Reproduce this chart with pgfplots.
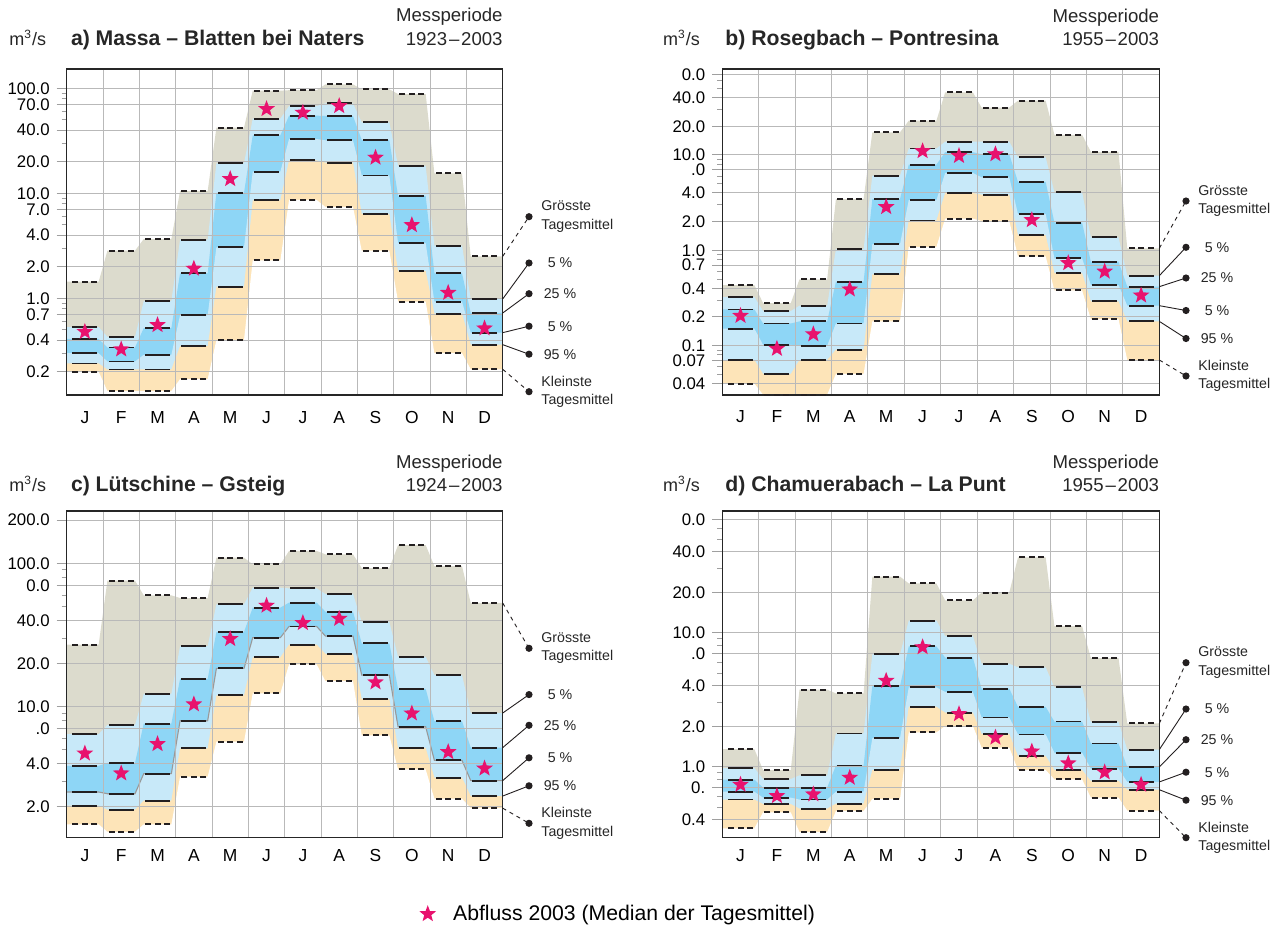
\documentclass[border=0pt]{standalone}
\usepackage{pgfplots}
\pgfplotsset{compat=1.18}
\usepackage{pgfplotstable}
\usepackage{fontspec}
\setmainfont{Liberation Sans}
\definecolor{cgrey}{RGB}{220,219,205}
\definecolor{clight}{RGB}{200,233,249}
\definecolor{cdark}{RGB}{142,214,246}
\definecolor{corange}{RGB}{253,228,184}
\definecolor{cstar}{RGB}{232,18,110}
\definecolor{cgrid}{RGB}{185,185,185}
\definecolor{cline}{RGB}{35,31,32}

\pgfdeclareplotmark{fstar}{%
  \pgfpathmoveto{\pgfpointpolar{90}{\pgfplotmarksize}}%
  \pgfpathlineto{\pgfpointpolar{126}{0.42*\pgfplotmarksize}}%
  \pgfpathlineto{\pgfpointpolar{162}{\pgfplotmarksize}}%
  \pgfpathlineto{\pgfpointpolar{198}{0.42*\pgfplotmarksize}}%
  \pgfpathlineto{\pgfpointpolar{234}{\pgfplotmarksize}}%
  \pgfpathlineto{\pgfpointpolar{270}{0.42*\pgfplotmarksize}}%
  \pgfpathlineto{\pgfpointpolar{306}{\pgfplotmarksize}}%
  \pgfpathlineto{\pgfpointpolar{342}{0.42*\pgfplotmarksize}}%
  \pgfpathlineto{\pgfpointpolar{18}{\pgfplotmarksize}}%
  \pgfpathlineto{\pgfpointpolar{54}{0.42*\pgfplotmarksize}}%
  \pgfpathclose
  \pgfusepathqfill
}

% columns: x = polygon abscissa, m = month, then max, quantiles 5/25/75/95 %, min, 2003 median
\pgfplotstableread{
x m max q5 q25 q75 q95 min star
0.5 1 1.44 0.533 0.41 0.30 0.24 0.20 0.48
1.38 1 1.44 0.533 0.41 0.30 0.24 0.20 0.48
1.62 2 2.84 0.43 0.34 0.25 0.21 0.131 0.327
2.38 2 2.84 0.43 0.34 0.25 0.21 0.131 0.327
2.62 3 3.67 0.94 0.52 0.29 0.21 0.131 0.557
3.38 3 3.67 0.94 0.52 0.29 0.21 0.131 0.557
3.62 4 10.5 3.62 1.73 0.69 0.35 0.17 1.92
4.38 4 10.5 3.62 1.73 0.69 0.35 0.17 1.92
4.62 5 42.2 19.3 10.1 3.06 1.29 0.40 13.7
5.38 5 42.2 19.3 10.1 3.06 1.29 0.40 13.7
5.62 6 95 51.4 35.7 16.1 8.57 2.30 63.6
6.38 6 95 51.4 35.7 16.1 8.57 2.30 63.6
6.62 7 96 67.9 54.9 32.9 20.6 8.64 58.7
7.38 7 96 67.9 54.9 32.9 20.6 8.64 58.7
7.62 8 109 72 54.5 32 19.6 7.41 67.9
8.38 8 109 72 54.5 32 19.6 7.41 67.9
8.62 9 97.8 47.4 32.2 14.8 6.36 2.84 21.9
9.38 9 97.8 47.4 32.2 14.8 6.36 2.84 21.9
9.62 10 88.3 18.3 9.44 3.36 1.82 0.93 4.99
10.38 10 88.3 18.3 9.44 3.36 1.82 0.93 4.99
10.62 11 15.5 3.17 1.73 0.93 0.715 0.30 1.13
11.38 11 15.5 3.17 1.73 0.93 0.715 0.30 1.13
11.62 12 2.51 0.986 0.725 0.471 0.362 0.211 0.518
12.5 12 2.51 0.986 0.725 0.471 0.362 0.211 0.518
}\tA

\pgfplotstableread{
x m max q5 q25 q75 q95 min star
0.5 1 0.433 0.324 0.240 0.151 0.0708 0.040 0.206
1.38 1 0.433 0.324 0.240 0.151 0.0708 0.040 0.206
1.62 2 0.28 0.231 0.171 0.102 0.0505 0.0306 0.093
2.38 2 0.28 0.231 0.171 0.102 0.0505 0.0306 0.093
2.62 3 0.497 0.263 0.18 0.10 0.0708 0.0306 0.132
3.38 3 0.497 0.263 0.18 0.10 0.0708 0.0306 0.132
3.62 4 3.45 1.03 0.469 0.171 0.0908 0.0505 0.39
4.38 4 3.45 1.03 0.469 0.171 0.0908 0.0505 0.39
4.62 5 17.3 6.07 3.45 1.16 0.56 0.18 2.85
5.38 5 17.3 6.07 3.45 1.16 0.56 0.18 2.85
5.62 6 22.9 11.7 7.92 3.37 2.06 1.09 11.0
6.38 6 22.9 11.7 7.92 3.37 2.06 1.09 11.0
6.62 7 45.4 13.8 10.7 6.47 3.99 2.15 9.8
7.38 7 45.4 13.8 10.7 6.47 3.99 2.15 9.8
7.62 8 31.4 13.8 10.2 5.83 3.84 2.03 10.2
8.38 8 31.4 13.8 10.2 5.83 3.84 2.03 10.2
8.62 9 37.2 9.44 5.21 2.40 1.44 0.865 2.08
9.38 9 37.2 9.44 5.21 2.40 1.44 0.865 2.08
9.62 10 16.3 4.09 1.95 0.824 0.578 0.38 0.736
10.38 10 16.3 4.09 1.95 0.824 0.578 0.38 0.736
10.62 11 10.8 1.37 0.76 0.433 0.292 0.19 0.60
11.38 11 10.8 1.37 0.76 0.433 0.292 0.19 0.60
11.62 12 1.05 0.542 0.416 0.263 0.18 0.0708 0.337
12.5 12 1.05 0.542 0.416 0.263 0.18 0.0708 0.337
}\tB

\pgfplotstableread{
x m max q5 q25 q75 q95 min star
0.5 1 27.1 6.44 3.87 2.54 2.04 1.51 4.72
1.38 1 27.1 6.44 3.87 2.54 2.04 1.51 4.72
1.62 2 75.7 7.45 4.05 2.47 1.91 1.34 3.43
2.38 2 75.7 7.45 4.05 2.47 1.91 1.34 3.43
2.62 3 59.8 12.3 7.61 3.41 2.21 1.51 5.49
3.38 3 59.8 12.3 7.61 3.41 2.21 1.51 5.49
3.62 4 57.3 26.4 15.6 7.98 5.12 3.25 10.4
4.38 4 57.3 26.4 15.6 7.98 5.12 3.25 10.4
4.62 5 109.5 51.8 33.2 18.5 12.0 5.70 29.7
5.38 5 109.5 51.8 33.2 18.5 12.0 5.70 29.7
5.62 6 98.4 67.6 49.1 30.3 22.1 12.4 50.7
6.38 6 98.4 67.6 49.1 30.3 22.1 12.4 50.7
6.62 7 122 66.9 53.2 36.3 27.1 19.7 38.4
7.38 7 122 66.9 53.2 36.3 27.1 19.7 38.4
7.62 8 115.6 61.1 46.0 31.1 23.4 15.1 41.1
8.38 8 115.6 61.1 46.0 31.1 23.4 15.1 41.1
8.62 9 92.7 39.0 27.7 16.6 11.3 6.31 14.8
9.38 9 92.7 39.0 27.7 16.6 11.3 6.31 14.8
9.62 10 134 22.3 13.3 7.25 5.15 3.65 8.98
10.38 10 134 22.3 13.3 7.25 5.15 3.65 8.98
10.62 11 95.8 16.6 7.94 4.22 3.20 2.28 4.83
11.38 11 95.8 16.6 7.94 4.22 3.20 2.28 4.83
11.62 12 52.9 9.03 5.18 3.05 2.38 1.96 3.71
12.5 12 52.9 9.03 5.18 3.05 2.38 1.96 3.71
}\tC

\pgfplotstableread{
x m max q5 q25 q75 q95 min star
0.5 1 1.35 0.977 0.80 0.65 0.568 0.347 0.734
1.38 1 1.35 0.977 0.80 0.65 0.568 0.347 0.734
1.62 2 0.944 0.809 0.697 0.587 0.526 0.456 0.604
2.38 2 0.944 0.809 0.697 0.587 0.526 0.456 0.604
2.62 3 3.76 0.861 0.697 0.568 0.486 0.325 0.622
3.38 3 3.76 0.861 0.697 0.568 0.486 0.325 0.622
3.62 4 3.52 1.77 1.02 0.65 0.53 0.467 0.828
4.38 4 3.52 1.77 1.02 0.65 0.53 0.467 0.828
4.62 5 26.2 6.89 4.0 1.63 0.944 0.574 4.38
5.38 5 26.2 6.89 4.0 1.63 0.944 0.574 4.38
5.62 6 23.3 12.3 7.9 3.91 2.80 1.80 7.8
6.38 6 23.3 12.3 7.9 3.91 2.80 1.80 7.8
6.62 7 17.4 9.44 6.51 3.61 2.53 2.01 2.47
7.38 7 17.4 9.44 6.51 3.61 2.53 2.01 2.47
7.62 8 19.9 5.87 3.82 2.33 1.76 1.39 1.65
8.38 8 19.9 5.87 3.82 2.33 1.76 1.39 1.65
8.62 9 36.5 5.51 2.79 1.74 1.20 0.944 1.30
9.38 9 36.5 5.51 2.79 1.74 1.20 0.944 1.30
9.62 10 11.2 3.91 2.17 1.27 0.944 0.804 1.06
10.38 10 11.2 3.91 2.17 1.27 0.944 0.804 1.06
10.62 11 6.47 2.15 1.49 0.966 0.782 0.587 0.908
11.38 11 6.47 2.15 1.49 0.966 0.782 0.587 0.908
11.62 12 2.10 1.34 0.994 0.769 0.673 0.47 0.734
12.5 12 2.10 1.34 0.994 0.769 0.673 0.47 0.734
}\tD

\pgfplotsset{
  geom/.style={scale only axis, anchor=north west, xmin=0.5, xmax=12.5},
  fillaxis/.style={geom, hide axis},
  mainaxis/.style={
    geom, clip mode=individual,
    axis line style={draw=black!85, line width=0.65pt},
    xtick={1,...,12}, xticklabels={J,F,M,A,M,J,J,A,S,O,N,D},
    minor xtick={1.5,2.5,...,11.5},
    xtick style={draw=none},
    xminorgrids=true, ymajorgrids=true, yminorgrids=false, xmajorgrids=false,
    major grid style={cgrid, line width=0.5pt},
    minor grid style={cgrid, line width=0.5pt},
    ytick pos=left, tick align=outside,
    ytick style={draw=gray!75, line width=0.5pt},
    major tick length=5pt, minor tick length=2.5pt,
    yticklabel style={font=\fontsize{8.4}{10}\selectfont},
  },
  qline/.style={only marks, mark=-, mark size=6.25pt, mark repeat=2, color=cline,
    mark options={line width=0.9pt, solid}},
  xline/.style={only marks, mark=-, mark size=6.25pt, mark repeat=2, color=cline,
    mark options={line width=1pt, dash pattern=on 3pt off 1.75pt}},
}

\newcommand\panelfills[1]{%
  \addplot[fill=cgrey, draw=none] table[x=x,y=max]{#1} \closedcycle;
  \addplot[fill=clight, draw=none] table[x=x,y=q5]{#1} \closedcycle;
  \addplot[fill=cdark, draw=none] table[x=x,y=q25]{#1} \closedcycle;
  \addplot[fill=clight, draw=none] table[x=x,y=q75]{#1} \closedcycle;
  \addplot[fill=corange, draw=none] table[x=x,y=q95]{#1} \closedcycle;
  \addplot[fill=white, draw=none] table[x=x,y=min]{#1} \closedcycle;
}
\newcommand\panelmarks[1]{%
  \addplot[xline, forget plot] table[x=m,y=max]{#1};
  \addplot[qline, forget plot] table[x=m,y=q5]{#1};
  \addplot[qline, forget plot] table[x=m,y=q25]{#1};
  \addplot[qline, forget plot] table[x=m,y=q75]{#1};
  \addplot[qline, forget plot] table[x=m,y=q95]{#1};
  \addplot[xline, forget plot] table[x=m,y=min]{#1};
  \addplot[only marks, mark=fstar, mark size=4.4pt, mark repeat=2, color=cstar, forget plot] table[x=m,y=star]{#1};
}
% December values at the right edge, ends of the key leaders
\newcommand\panelends[7]{%
  \coordinate (#1max) at (axis cs:12.5,#2);
  \coordinate (#1q5) at (axis cs:12.5,#3);
  \coordinate (#1q25) at (axis cs:12.5,#4);
  \coordinate (#1q75) at (axis cs:12.5,#5);
  \coordinate (#1q95) at (axis cs:12.5,#6);
  \coordinate (#1min) at (axis cs:12.5,#7);
}

% right-hand key: #1 prefix, #2 dot x, #3 top dot y
\newcommand\panelkey[3]{%
  \begin{scope}[line width=0.45pt, cline]
    \draw[dash pattern=on 2pt off 2pt] (#1max) -- (#2, #3);
    \draw (#1q5) -- (#2, #3-23.15pt);
    \draw (#1q25) -- (#2, #3-38.5pt);
    \draw (#1q75) -- (#2, #3-54.75pt);
    \draw (#1q95) -- (#2, #3-68.75pt);
    \draw[dash pattern=on 2pt off 2pt] (#1min) -- (#2, #3-87.5pt);
    \foreach \dy in {0pt,23.15pt,38.5pt,54.75pt,68.75pt,87.5pt}
      \fill (#2, #3-\dy) circle (1.8pt);
  \end{scope}
  \begin{scope}[every node/.style={inner sep=0pt, font=\fontsize{7.1}{9.2}\selectfont, text=black!85}]
    \node[anchor=west, align=left] at (#2+6pt, #3) {Grösste\\Tagesmittel};
    \node at (#2+15.5pt, #3-23.15pt) {5 \%};
    \node at (#2+15.5pt, #3-38.5pt) {25 \%};
    \node at (#2+15.5pt, #3-54.75pt) {5 \%};
    \node at (#2+15.5pt, #3-68.75pt) {95 \%};
    \node[anchor=west, align=left] at (#2+6pt, #3-87.5pt) {Kleinste\\Tagesmittel};
  \end{scope}
}

\begin{document}
\begin{tikzpicture}
\path[use as bounding box] (0pt,0pt) rectangle (638pt,-463pt);

% ---------- a ----------
\begin{axis}[fillaxis, ymode=log, log origin=infty, at={(33.35pt,-34.5pt)}, width=218pt, height=163pt, ymin=0.120, ymax=152.8]
\panelfills{\tA}
\end{axis}
\begin{axis}[mainaxis, ymode=log, at={(33.35pt,-34.5pt)}, width=218pt, height=163pt,
  ymin=0.120, ymax=152.8,
  xticklabel style={font=\fontsize{8.7}{10}\selectfont, anchor=base, yshift=-9pt},
  ytick={0.2,0.4,0.7,1,2,4,7,10,20,40,70,100},
  yticklabels={0.2,0.4,0.7,1.0,2.0,4.0,7.0,10.0,20.0,40.0,70.0,100.0},
  minor ytick={0.3,0.5,0.6,0.8,0.9,3,5,6,8,9,30,50,60,80,90}]
\panelmarks{\tA}
\panelends{a}{2.51}{0.986}{0.725}{0.471}{0.362}{0.211}
\end{axis}

% ---------- b ----------
\begin{axis}[fillaxis, ymode=log, log origin=infty, at={(361.15pt,-34.5pt)}, width=218.5pt, height=163pt, ymin=0.0304, ymax=79.8]
\panelfills{\tB}
\end{axis}
\begin{axis}[mainaxis, ymode=log, at={(361.15pt,-34.5pt)}, width=218.5pt, height=163pt,
  ymin=0.0304, ymax=79.8,
  xticklabel style={font=\fontsize{8.7}{10}\selectfont, anchor=base, yshift=-9pt},
  ytick={0.04,0.07,0.1,0.2,0.4,0.7,1,2,4,7,10,20,40,70},
  yticklabels={0.04,0.07,0.1,0.2,0.4,0.7,1.0,2.0,4.0,.0,10.0,20.0,40.0,0.0},
  minor ytick={0.05,0.06,0.08,0.09,0.3,0.5,0.6,0.8,0.9,3,5,6,8,9,30,50,60}]
\panelmarks{\tB}
\panelends{b}{1.05}{0.542}{0.416}{0.263}{0.18}{0.0708}
\end{axis}

% ---------- c ----------
\begin{axis}[fillaxis, ymode=log, log origin=infty, at={(33.35pt,-255.5pt)}, width=218pt, height=163.35pt, ymin=1.219, ymax=231.8]
\panelfills{\tC}
\addplot[draw=gray!80, line width=0.55pt] table[x=x,y=q75]{\tC};
\end{axis}
\begin{axis}[mainaxis, ymode=log, at={(33.35pt,-255.5pt)}, width=218pt, height=163.35pt,
  ymin=1.219, ymax=231.8,
  xticklabel style={font=\fontsize{8.7}{10}\selectfont, anchor=base, yshift=-6.7pt},
  ytick={2,4,7,10,20,40,70,100,200},
  yticklabels={2.0,4.0,.0,10.0,20.0,40.0,0.0,100.0,200.0},
  minor ytick={3,5,6,8,9,30,50,60,80,90},
  legend style={at={(0.808,-0.2336)}, anchor=west, draw=none, fill=none, inner sep=0pt,
    font=\fontsize{10.6}{12}\selectfont}]
\addlegendimage{only marks, mark=fstar, mark size=4.4pt, color=cstar}
\addlegendentry{\hspace*{6.5pt}Abfluss 2003 (Median der Tagesmittel)}
\panelmarks{\tC}
\panelends{c}{52.9}{9.03}{5.18}{3.05}{2.38}{1.96}
\end{axis}

% ---------- d ----------
\begin{axis}[fillaxis, ymode=log, log origin=infty, at={(361.15pt,-255.5pt)}, width=218.5pt, height=163.35pt, ymin=0.295, ymax=80.9]
\panelfills{\tD}
\end{axis}
\begin{axis}[mainaxis, ymode=log, at={(361.15pt,-255.5pt)}, width=218.5pt, height=163.35pt,
  ymin=0.295, ymax=80.9,
  xticklabel style={font=\fontsize{8.7}{10}\selectfont, anchor=base, yshift=-6.7pt},
  ytick={0.4,0.7,1,2,4,7,10,20,40,70},
  yticklabels={0.4,0.,1.0,2.0,4.0,.0,10.0,20.0,40.0,0.0},
  minor ytick={0.5,0.6,0.8,0.9,3,5,6,8,9,30,50,60}]
\panelmarks{\tD}
\panelends{d}{2.10}{1.34}{0.994}{0.769}{0.673}{0.47}
\end{axis}

% ---------- keys ----------
\panelkey{a}{264.5pt}{-108.35pt}
\panelkey{b}{593pt}{-100.5pt}
\panelkey{c}{264.5pt}{-324.15pt}
\panelkey{d}{593pt}{-331.35pt}

% ---------- headings ----------
\begin{scope}[every node/.style={inner sep=0pt, text=black!85}]
\def\unitfont{\fontsize{9}{10}\selectfont}
\def\titlefont{\fontsize{10.6}{12}\selectfont\bfseries}
\def\perfont{\fontsize{9.3}{10}\selectfont}
% a
\node[anchor=base west, font=\unitfont] at (4.5pt,-22.85pt) {m\textsuperscript{3}/s};
\node[anchor=base west, font=\titlefont] at (35.3pt,-22.85pt) {a) Massa – Blatten bei Naters};
\node[anchor=base east, font=\perfont] at (251.5pt,-10.85pt) {Messperiode};
\node[anchor=base east, font=\perfont] at (251.5pt,-22.85pt) {1923\kern0.1em–\kern0.1em2003};
% b
\node[anchor=base west, font=\unitfont] at (331.35pt,-22.85pt) {m\textsuperscript{3}/s};
\node[anchor=base west, font=\titlefont] at (362.5pt,-22.85pt) {b) Rosegbach – Pontresina};
\node[anchor=base east, font=\perfont] at (579.75pt,-11.15pt) {Messperiode};
\node[anchor=base east, font=\perfont] at (579.75pt,-22.85pt) {1955\kern0.1em–\kern0.1em2003};
% c
\node[anchor=base west, font=\unitfont] at (4.5pt,-245.85pt) {m\textsuperscript{3}/s};
\node[anchor=base west, font=\titlefont] at (35.3pt,-245.85pt) {c) Lütschine – Gsteig};
\node[anchor=base east, font=\perfont] at (251.5pt,-234.15pt) {Messperiode};
\node[anchor=base east, font=\perfont] at (251.5pt,-245.85pt) {1924\kern0.1em–\kern0.1em2003};
% d
\node[anchor=base west, font=\unitfont] at (331.35pt,-245.85pt) {m\textsuperscript{3}/s};
\node[anchor=base west, font=\titlefont] at (362.5pt,-245.85pt) {d) Chamuerabach – La Punt};
\node[anchor=base east, font=\perfont] at (579.75pt,-234.15pt) {Messperiode};
\node[anchor=base east, font=\perfont] at (579.75pt,-245.85pt) {1955\kern0.1em–\kern0.1em2003};
\end{scope}
\end{tikzpicture}
\end{document}
